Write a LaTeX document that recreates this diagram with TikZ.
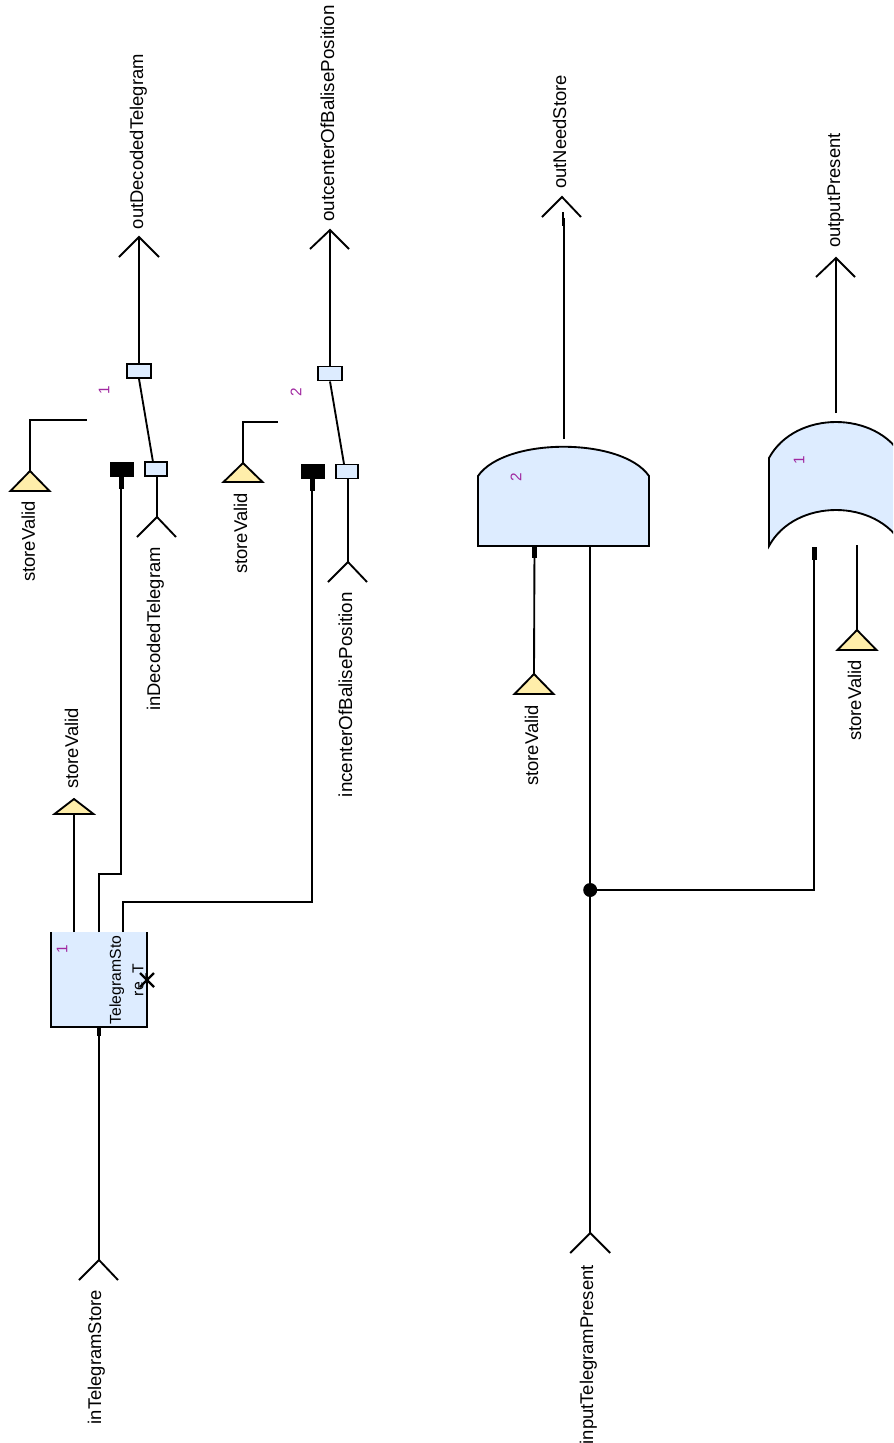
\documentclass[tikz,border=0pt]{standalone}
\usepackage{fontspec}
\setmainfont{Liberation Sans}
\definecolor{bodyblue}{RGB}{221,236,255}
\definecolor{flagyellow}{RGB}{255,238,170}
\definecolor{numpurple}{RGB}{160,40,160}
\tikzset{
  wire/.style={line width=1.4pt},
  portmark/.style={line width=3.4pt},
  smallbox/.style={draw, line width=1.4pt, fill=bodyblue, minimum width=18pt, minimum height=10.5pt, inner sep=0pt},
  blackbox/.style={draw, fill=black, minimum width=17pt, minimum height=10.5pt, inner sep=0pt},
  bodyshape/.style={draw, line width=1.4pt, fill=bodyblue},
  flag/.style={draw, line width=1.4pt, fill=flagyellow},
  tag/.style={rotate=90, anchor=base east, inner sep=0pt, font=\fontsize{13.8}{16}\selectfont},
  longtag/.style={tag, font=\fontsize{14.1}{16}\selectfont},
  num/.style={rotate=90, inner sep=0pt, text=numpurple, font=\fontsize{11.5}{13}\selectfont}
}
\begin{document}
\begin{tikzpicture}[x=0.75pt, y=-0.75pt]
\useasboundingbox (0,0) rectangle (893,1443);
\clip (0,0) rectangle (893,1443);
% first switch
\coordinate (outDecoded) at (139,237);
\coordinate (inDecoded) at (157,517);
\coordinate (validOne) at (30,471);
\node[smallbox] (upperOne) at (139,371) {};
\node[smallbox, minimum width=16.5pt] (lowerOne) at (156,469) {};
\node[blackbox] (padOne) at (121.5,469.5) {};
\draw[wire] (outDecoded) -- (outDecoded |- upperOne.north);
\draw[wire] (upperOne.south) -- (153,462);
\draw[wire] (157,476) -- (inDecoded);
\draw[wire] (outDecoded) ++(-20,20) -- (outDecoded) -- ++(20,20);
\draw[wire] (inDecoded) ++(-20,20) -- (inDecoded) -- ++(19,20);
\draw[flag] (validOne) -- ++(-19.5,20) -- ++(39,0) -- cycle;
\draw[wire] (validOne) |- (87,420);
\node[tag] (labOutDecoded) at (143,54) {outDecodedTelegram};
\node[tag] (labInDecoded) at (160,547) {inDecodedTelegram};
\node[tag] (labValidOne) at (35,501) {storeValid};
\node[num] (numOne) at (104,390) {1};
% second switch
\coordinate (outCenter) at (330,230);
\coordinate (inCenter) at (348,562);
\coordinate (validTwo) at (243,463);
\node[smallbox] (upperTwo) at (330,373.5) {};
\node[smallbox, minimum width=16.5pt] (lowerTwo) at (347,471.5) {};
\node[blackbox] (padTwo) at (312.5,471.5) {};
\draw[wire] (outCenter) -- (outCenter |- upperTwo.north);
\draw[wire] (upperTwo.south) -- (344,464);
\draw[wire] (348,479) -- (inCenter);
\draw[wire] (outCenter) ++(-20,19) -- (outCenter) -- ++(19,19);
\draw[wire] (inCenter) ++(-20,20) -- (inCenter) -- ++(19,20);
\draw[flag] (validTwo) -- ++(-19.5,19) -- ++(39,0) -- cycle;
\draw[wire] (validTwo) |- (278,422);
\node[longtag] (labOutCenter) at (334,5) {outcenterOfBalisePosition};
\node[longtag] (labInCenter) at (352,592) {incenterOfBalisePosition};
\node[tag] (labValidTwo) at (247,493) {storeValid};
\node[num] (numTwo) at (296,392) {2};
% store block
\coordinate (blockIn) at (99,1260);
\coordinate (validTop) at (74,799);
\fill[bodyblue] (51,932) rectangle (147,1027);
\draw[wire] (51,932) -- (51,1027) -- (147,1027) -- (147,932);
\node[rotate=90, align=center, inner sep=0pt, font=\fontsize{11.8}{17}\selectfont] (blockName) at (128,980) {TelegramSto\\re\_T};
\node[num] (numBlock) at (62,949) {1};
\draw[line width=1.8pt] (140,973) -- (154,987) (154,973) -- (140,987);
\draw[wire] (74,932) -- (validTop);
\draw[wire] (99,932) -- (99,874) -- (121,874) -- (121,477);
\draw[wire] (123,932) -- (123,902) -- (312,902) -- (312,477);
\draw[portmark] (121.5,477) -- (121.5,489);
\draw[portmark] (312.5,479) -- (312.5,491);
\draw[flag] (validTop) -- ++(-19.5,15) -- ++(39,0) -- cycle;
\draw[wire] (99,1027) -- (blockIn);
\draw[portmark] (99,1027) -- (99,1036);
\draw[wire] (blockIn) ++(-20,20) -- (blockIn) -- ++(19,20);
\node[tag] (labValidTop) at (78,708) {storeValid};
\node[tag] (labStore) at (101,1290) {inTelegramStore};
% and gate
\coordinate (outNeed) at (562,197);
\coordinate (present) at (590.2,1233);
\coordinate (validAnd) at (534,674);
\draw[bodyshape] (478,546) -- (478,476) .. controls (505,437) and (622,437) .. (649,476) -- (649,546) -- cycle;
\node[num] (numAnd) at (516,477) {2};
\draw[wire] (564,439) -- (564,218);
\draw[wire] (562.8,212) -- (562.8,226);
\draw[line width=2pt] (564,424) -- (564,439);
\draw[wire] (outNeed) ++(-20,20) -- (outNeed) -- ++(19,20);
\draw[wire] (534.5,546) -- (validAnd);
\draw[portmark] (534.5,546) -- (534.5,558);
\draw[flag] (validAnd) -- ++(-19.5,20) -- ++(39,0) -- cycle;
\draw[wire] (present |- 0,546) -- (present);
\draw[wire] (present) ++(-20,20) -- (present) -- ++(20,20);
\node[circle, fill=black, inner sep=0pt, minimum size=10.5pt] (junction) at (590.2,890) {};
\node[tag] (labNeed) at (566,75) {outNeedStore};
\node[tag] (labValidAnd) at (538,705) {storeValid};
\node[tag] (labPresent) at (593,1265) {inputTelegramPresent};
% or gate
\coordinate (outPresent) at (836,258);
\coordinate (validOr) at (857,630);
\draw[bodyshape] (769,546) -- (769,458) .. controls (795,410) and (877,410) .. (903,458) -- (903,546) .. controls (877,498) and (795,498) .. (769,546) -- cycle;
\node[num] (numOr) at (799,460) {1};
\draw[wire] (836,413) -- (outPresent);
\draw[wire] (outPresent) ++(-20,19) -- (outPresent) -- ++(19,19);
\draw[wire] (junction) -| (814,547);
\draw[portmark] (814.5,547) -- (814.5,560);
\draw[wire] (857,545) -- (validOr);
\draw[flag] (validOr) -- ++(-19.5,20) -- ++(39,0) -- cycle;
\node[tag] (labOutPresent) at (840,133) {outputPresent};
\node[tag] (labValidOr) at (861,660) {storeValid};
\end{tikzpicture}
\end{document}
